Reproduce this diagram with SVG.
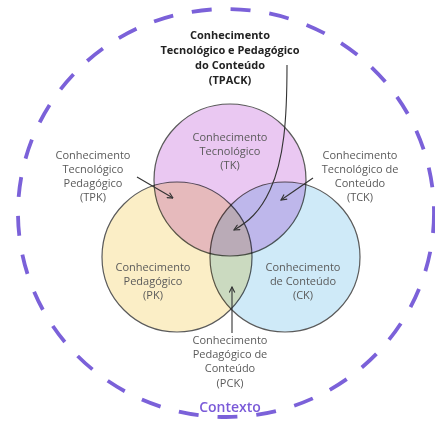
<svg xmlns="http://www.w3.org/2000/svg" width="435" height="421" viewBox="0 0 435 421">
<defs>
<style>
.c{stroke:#5a5a5a;stroke-width:1.2;mix-blend-mode:multiply}
.t{font-family:"Open Sans","Liberation Sans",sans-serif;font-size:11px;fill:#5a5a5a;text-anchor:middle}
.b{font-family:"Open Sans","Liberation Sans",sans-serif;font-size:11px;font-weight:bold;fill:#222;text-anchor:middle}
.a{fill:none;stroke:#333;stroke-width:1.1;marker-end:url(#ah)}
</style>
<marker id="ah" viewBox="0 0 10 10" refX="9" refY="5" markerWidth="7" markerHeight="7" orient="auto-start-reverse" markerUnits="userSpaceOnUse">
<path d="M1,1 L9,5 L1,9" fill="none" stroke="#333" stroke-width="1.6"/>
</marker>
</defs>
<rect width="435" height="421" fill="#fff"/>
<g id="contexto">
<ellipse cx="226" cy="213" rx="208" ry="204" fill="none" stroke="#7b61d9" stroke-width="3.8" stroke-dasharray="20 19"/>
<text x="230" y="412" style="font-family:'Open Sans','Liberation Sans',sans-serif;font-size:14px;font-weight:600;fill:#7a5ad8;text-anchor:middle">Contexto</text>
</g>
<g style="isolation:isolate">
<g id="tk"><circle class="c" cx="230" cy="180" r="76" fill="#eac8f2"/></g>
<g id="pk"><circle class="c" cx="177" cy="257" r="75" fill="#fbeec6"/></g>
<g id="ck"><circle class="c" cx="285" cy="257" r="75" fill="#cfeaf8"/></g>
</g>
<g id="labels">
<text class="b"><tspan x="230" y="39">Conhecimento</tspan><tspan x="230" y="54">Tecnológico e Pedagógico</tspan><tspan x="230" y="69">do Conteúdo</tspan><tspan x="230" y="84">(TPACK)</tspan></text>
<text class="t"><tspan x="230" y="141">Conhecimento</tspan><tspan x="230" y="155">Tecnológico</tspan><tspan x="230" y="169">(TK)</tspan></text>
<text class="t"><tspan x="93" y="159">Conhecimento</tspan><tspan x="93" y="173">Tecnológico</tspan><tspan x="93" y="187">Pedagógico</tspan><tspan x="93" y="201">(TPK)</tspan></text>
<text class="t"><tspan x="360" y="159">Conhecimento</tspan><tspan x="360" y="173">Tecnológico de</tspan><tspan x="360" y="187">Conteúdo</tspan><tspan x="360" y="201">(TCK)</tspan></text>
<text class="t"><tspan x="153" y="271">Conhecimento</tspan><tspan x="153" y="285">Pedagógico</tspan><tspan x="153" y="299">(PK)</tspan></text>
<text class="t"><tspan x="303" y="271">Conhecimento</tspan><tspan x="303" y="285">de Conteúdo</tspan><tspan x="303" y="299">(CK)</tspan></text>
<text class="t"><tspan x="230" y="344">Conhecimento</tspan><tspan x="230" y="358">Pedagógico de</tspan><tspan x="230" y="372">Conteúdo</tspan><tspan x="230" y="387">(PCK)</tspan></text>
</g>
<g id="connectors">
<path class="a" d="M287,65 C287,120 284,160 270,190 C260,212 248,222 234,230"/>
<path class="a" d="M137,177 L173,198"/>
<path class="a" d="M313,178 L281,200"/>
<path class="a" d="M232,333 L232,287"/>
</g>
</svg>
